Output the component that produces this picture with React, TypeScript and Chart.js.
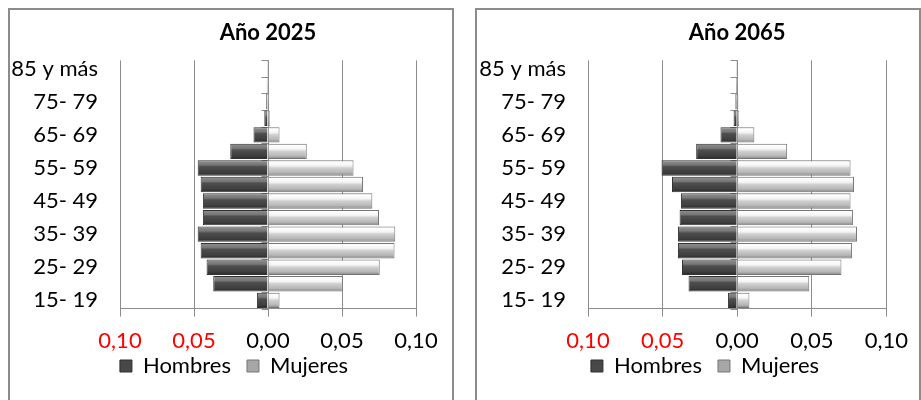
import React, { useEffect, useRef } from "react";
import { Chart, registerables } from "chart.js";

Chart.register(...registerables);

const ageGroups = [
  "15- 19", "20- 24", "25- 29", "30- 34", "35- 39", "40- 44", "45- 49", "50- 54",
  "55- 59", "60- 64", "65- 69", "70- 74", "75- 79", "80- 84", "85 y más",
];

const men2025 = [-0.0075, -0.037, -0.0415, -0.0455, -0.0475, -0.044, -0.044, -0.0455, -0.0475, -0.0255, -0.0098, -0.0025, -0.0012, -0.0008, -0.0006];
const women2025 = [0.0078, 0.0505, 0.0755, 0.0855, 0.086, 0.075, 0.0705, 0.0642, 0.0578, 0.0262, 0.0078, 0.0012, 0.0008, 0.0006, 0.0005];

const men2065 = [-0.0062, -0.0326, -0.037, -0.0397, -0.0397, -0.0386, -0.0377, -0.0437, -0.0507, -0.0275, -0.0112, -0.0024, -0.0012, -0.0008, -0.0006];
const women2065 = [0.0082, 0.0483, 0.0699, 0.077, 0.0803, 0.0776, 0.076, 0.0783, 0.076, 0.0335, 0.0115, 0.0012, 0.0008, 0.0006, 0.0005];

const seriesNames = ["Hombres", "Mujeres"];
const axisMin = -0.1;
const axisMax = 0.1;
const axisStep = 0.05;

const FONT = "Lato";
const FS = 22;
const GRID = "#8c8c8c";

const menStops: [number, string][] = [
  [0, "#585858"], [0.08, "#8a8a8a"], [0.3, "#767676"], [0.42, "#4e4e4e"], [0.8, "#3e3e3e"], [1, "#262626"],
];
const womenStops: [number, string][] = [
  [0, "#b0b0b0"], [0.1, "#ffffff"], [0.35, "#f4f4f4"], [0.5, "#d0d0d0"], [0.8, "#b6b6b6"], [1, "#7e7e7e"],
];

const BAR_PCT = 0.93;

function barFill(stops: [number, string][]) {
  return (c: any) => {
    const chart = c.chart;
    const y = chart.scales && chart.scales.y;
    if (!y || c.type !== "data" || !chart.chartArea) return stops[3][1];
    const center = y.getPixelForValue(c.dataIndex);
    const band = Math.abs(y.getPixelForValue(1) - y.getPixelForValue(0)) * BAR_PCT;
    const g = chart.ctx.createLinearGradient(0, center - band / 2, 0, center + band / 2);
    stops.forEach(([o, col]) => g.addColorStop(o, col));
    return g;
  };
}

const centerAxis = {
  id: "centerAxis",
  beforeDatasetsDraw(chart: any) {
    const { ctx, scales } = chart;
    const x = scales.x;
    const y = scales.y;
    const x0 = Math.round(x.getPixelForValue(0)) + 0.5;
    ctx.save();
    ctx.strokeStyle = GRID;
    ctx.lineWidth = 1;
    const n = chart.data.labels.length;
    for (let i = 0; i <= n; i++) {
      const yy = Math.round(y.getPixelForValue(i - 0.5)) + 0.5;
      ctx.beginPath();
      ctx.moveTo(x0 - 7, yy);
      ctx.lineTo(x0, yy);
      ctx.stroke();
    }
    ctx.restore();
  },
};

const legendShift = {
  id: "legendShift",
  afterLayout(chart: any, _args: any, opts: any) {
    const lg = chart.legend;
    if (!lg) return;
    const dx = opts.dx || 0;
    const dy = opts.dy || 0;
    lg.left += dx;
    lg.right += dx;
    lg.top += dy;
    lg.bottom += dy;
    if (lg.legendHitBoxes) lg.legendHitBoxes.forEach((h: any) => { h.left += dx; h.top += dy; });
  },
};

function Pyramid({ title, men, women, areaLeft, padRight, legendDx }: { title: string; men: number[]; women: number[]; areaLeft: number; padRight: number; legendDx: number }) {
  const ref = useRef<HTMLCanvasElement | null>(null);
  useEffect(() => {
    if (!ref.current) return;
    const chart = new Chart(ref.current, {
      type: "bar",
      data: {
        labels: ageGroups,
        datasets: [
          {
            label: seriesNames[0],
            data: men,
            backgroundColor: barFill(menStops) as any,
            borderColor: "#333333",
            borderWidth: 1,
            barPercentage: BAR_PCT,
            categoryPercentage: 1,
          },
          {
            label: seriesNames[1],
            data: women,
            backgroundColor: barFill(womenStops) as any,
            borderColor: "#767676",
            borderWidth: 1,
            barPercentage: BAR_PCT,
            categoryPercentage: 1,
          },
        ],
      },
      options: {
        indexAxis: "y",
        animation: false,
        responsive: true,
        maintainAspectRatio: false,
        layout: { padding: { left: 0, right: padRight, top: 0, bottom: 0 } },
        scales: {
          x: {
            type: "linear",
            min: axisMin,
            max: axisMax,
            stacked: true,
            ticks: {
              stepSize: axisStep,
              font: { family: FONT, size: FS },
              padding: 11,
              color: (ctx: any) => (ctx.tick && ctx.tick.value < -1e-9 ? "#ff0000" : "#000000"),
              callback: (v: any) => Math.abs(Number(v)).toFixed(2).replace(".", ","),
            },
            grid: { color: GRID, tickLength: 8, lineWidth: 1 },
            border: { color: GRID },
          },
          y: {
            type: "category",
            reverse: true,
            stacked: true,
            grid: { display: false, drawTicks: false },
            border: { display: false },
            ticks: {
              autoSkip: false,
              padding: 22,
              font: { family: FONT, size: FS },
              color: "#000000",
              callback: (v: any, i: number) => (i % 2 === 0 ? ageGroups[Number(v)] : ""),
            },
            afterFit: (s: any) => {
              s.width = areaLeft;
            },
          },
        },
        plugins: {
          title: {
            display: true,
            text: title,
            fullSize: false,
            color: "#000000",
            font: { family: FONT, size: FS, weight: "bold" },
            padding: { top: 10, bottom: 14 },
          },
          legend: {
            display: true,
            position: "bottom",
            labels: {
              font: { family: FONT, size: FS },
              color: "#000000",
              boxWidth: 12,
              boxHeight: 12,
              padding: 16,
              generateLabels: () => [
                { text: seriesNames[0], fillStyle: "#484848", strokeStyle: "#2e2e2e", lineWidth: 1, hidden: false, datasetIndex: 0 },
                { text: seriesNames[1], fillStyle: "#a6a6a6", strokeStyle: "#767676", lineWidth: 1, hidden: false, datasetIndex: 1 },
              ],
            },
          },
          legendShift: { dx: legendDx, dy: -26 },
          tooltip: { enabled: false },
        },
      },
      plugins: [centerAxis, legendShift],
    } as any);
    return () => chart.destroy();
  }, [title, men, women, areaLeft, padRight, legendDx]);
  return (
    <div style={{ position: "relative", width: 442, height: 403 }}>
      <canvas ref={ref} />
    </div>
  );
}

const panelStyle = (left: number): React.CSSProperties => ({
  position: "absolute",
  left,
  top: 7.5,
  width: 446,
  height: 420,
  boxSizing: "border-box",
  borderTop: "2px solid #8c8c8c",
  borderLeft: "2px solid #8c8c8c",
  borderRight: "2px solid #8c8c8c",
  background: "#ffffff",
});

export default function App() {
  return (
    <div style={{ position: "fixed", left: 0, top: 0, width: 921, height: 400, overflow: "hidden", background: "#ffffff" }}>
      <div style={panelStyle(8)}>
        <Pyramid title="Año 2025" men={men2025} women={women2025} areaLeft={110} padRight={36} legendDx={21} />
      </div>
      <div style={panelStyle(475)}>
        <Pyramid title="Año 2065" men={men2065} women={women2065} areaLeft={111} padRight={28} legendDx={21} />
      </div>
    </div>
  );
}
